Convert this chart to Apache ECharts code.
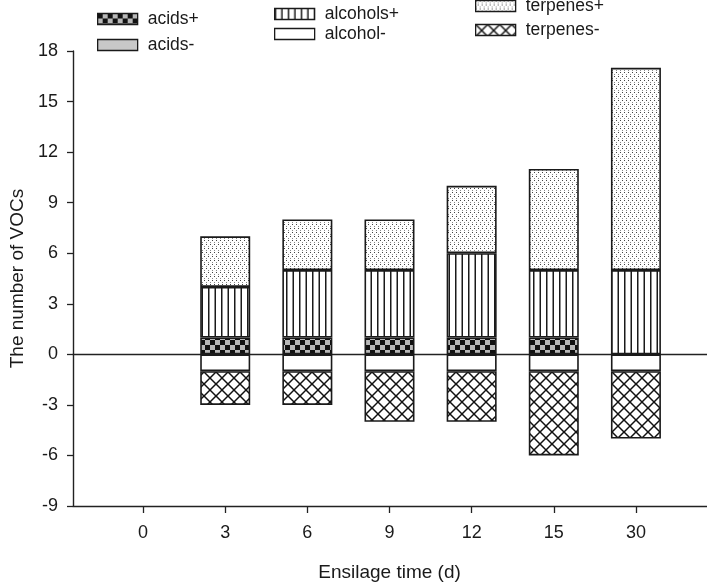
<!DOCTYPE html>
<html>
<head>
<meta charset="utf-8">
<script src="https://cdn.jsdelivr.net/npm/echarts@6/dist/echarts.min.js"></script>
<style>
html,body{margin:0;padding:0;background:#fff;}
#chart{width:707px;height:582px;}
</style>
</head>
<body>
<div id="chart"></div>
<script>
// ---- data ----
var categories = ['0', '3', '6', '9', '12', '15', '30'];
var acidsPos    = [0, 1, 1, 1, 1, 1, 0];
var acidsNeg    = [0, 0, 0, 0, 0, 0, 0];
var alcoholsPos = [0, 3, 4, 4, 5, 4, 5];
var alcoholNeg  = [0, -1, -1, -1, -1, -1, -1];
var terpenesPos = [0, 3, 3, 3, 4, 6, 12];
var terpenesNeg = [0, -2, -2, -3, -3, -5, -4];
var yTicks = [-9, -6, -3, 0, 3, 6, 9, 12, 15, 18];

// ---- patterns ----
function makeCanvas(w, h) {
  var c = document.createElement('canvas');
  c.width = w; c.height = h;
  return c;
}
function patCheck() {
  var c = makeCanvas(10, 10), g = c.getContext('2d');
  g.fillStyle = '#b8b8b8'; g.fillRect(0, 0, 10, 10);
  g.fillStyle = '#111';
  g.fillRect(0, 0, 5, 5); g.fillRect(5, 5, 5, 5);
  return {image: c, repeat: 'repeat'};
}
function patVLines() {
  var c = makeCanvas(13, 4), g = c.getContext('2d');
  g.fillStyle = '#fff'; g.fillRect(0, 0, 13, 4);
  g.fillStyle = '#1a1a1a';
  g.fillRect(0, 0, 1.5, 4); g.fillRect(6.5, 0, 1.5, 4);
  return {image: c, repeat: 'repeat'};
}
function patDots() {
  var c = makeCanvas(8, 8), g = c.getContext('2d');
  g.fillStyle = '#fff'; g.fillRect(0, 0, 8, 8);
  g.fillStyle = '#444';
  g.fillRect(0, 0, 1, 1); g.fillRect(4, 0, 1, 1);
  g.fillRect(2, 4, 1, 1); g.fillRect(6, 4, 1, 1);
  g.fillStyle = '#888';
  g.fillRect(2, 2, 1, 1); g.fillRect(6, 2, 1, 1);
  g.fillRect(0, 6, 1, 1); g.fillRect(4, 6, 1, 1);
  return {image: c, repeat: 'repeat'};
}
function patCross() {
  var s = 12, c = makeCanvas(s, s), g = c.getContext('2d');
  g.fillStyle = '#fff'; g.fillRect(0, 0, s, s);
  g.strokeStyle = '#111'; g.lineWidth = 1.5;
  for (var k = -1; k <= 1; k++) {
    g.beginPath(); g.moveTo(k * s, 0); g.lineTo(k * s + s, s); g.stroke();
    g.beginPath(); g.moveTo(k * s + s, 0); g.lineTo(k * s, s); g.stroke();
  }
  return {image: c, repeat: 'repeat'};
}

var seriesDefs = [
  {name: 'acids+',    values: acidsPos,    color: patCheck()},
  {name: 'acids-',    values: acidsNeg,    color: '#c8c8c8'},
  {name: 'alcohols+', values: alcoholsPos, color: patVLines()},
  {name: 'alcohol-',  values: alcoholNeg,  color: '#ffffff'},
  {name: 'terpenes+', values: terpenesPos, color: patDots()},
  {name: 'terpenes-', values: terpenesNeg, color: patCross()}
];

var FONT = 'Liberation Sans, Arial, Helvetica, sans-serif';
var series = seriesDefs.map(function (d) {
  return {
    name: d.name,
    type: 'bar',
    stack: 'total',
    barWidth: 50,
    xAxisIndex: 0,
    yAxisIndex: 0,
    data: d.values.map(function (v) { return v === 0 ? '-' : v; }),
    itemStyle: {color: d.color, borderColor: '#1a1a1a', borderWidth: 1.6},
    emphasis: {disabled: true}
  };
});

var legendPos = [
  {left: 97, top: 10},
  {left: 97, top: 36},
  {left: 274, top: 5},
  {left: 274, top: 25},
  {left: 475, top: -3},
  {left: 475, top: 21}
];
var legends = seriesDefs.map(function (d, i) {
  return {
    data: [d.name],
    left: legendPos[i].left,
    top: legendPos[i].top,
    padding: 0,
    icon: 'rect',
    itemWidth: 40,
    itemHeight: 11,
    selectedMode: false,
    itemStyle: {borderColor: '#1a1a1a', borderWidth: 1.3},
    textStyle: {fontSize: 17.5, color: '#1a1a1a', fontFamily: FONT, padding: [0, 0, 0, 5]}
  };
});

var hiddenAxisParts = {
  axisLine: {show: false}, axisTick: {show: false},
  axisLabel: {show: false}, splitLine: {show: false}
};

var chart = echarts.init(document.getElementById('chart'), null, {renderer: 'canvas'});
chart.setOption({
  backgroundColor: '#fff',
  animation: false,
  legend: legends,
  grid: [
    {left: 102, right: 30, top: 51, bottom: 76, containLabel: false, outerBoundsMode: 'none'},
    {left: 73, right: 0, top: 51, bottom: 76, containLabel: false, outerBoundsMode: 'none'}
  ],
  xAxis: [
    {
      gridIndex: 0,
      type: 'category',
      data: categories,
      boundaryGap: true,
      name: 'Ensilage time (d)',
      nameLocation: 'middle',
      nameGap: 57,
      nameTextStyle: {fontSize: 19, color: '#1a1a1a', fontFamily: FONT},
      axisLine: {show: false, onZero: false},
      axisTick: {show: true, alignWithLabel: true, length: 7, lineStyle: {color: '#222', width: 1.3}},
      axisLabel: {fontSize: 18, color: '#1a1a1a', fontFamily: FONT, margin: 18},
      splitLine: {show: false}
    },
    Object.assign({
      gridIndex: 1, type: 'value', min: 0, max: 1, position: 'bottom'
    }, hiddenAxisParts, {
      axisLine: {show: true, onZero: false, lineStyle: {color: '#222', width: 1.4}}
    }),
    Object.assign({
      gridIndex: 1, type: 'value', min: 0, max: 1, position: 'top'
    }, hiddenAxisParts, {
      axisLine: {show: true, onZero: true, lineStyle: {color: '#222', width: 1.4}}
    })
  ],
  yAxis: [
    Object.assign({
      gridIndex: 0, type: 'value', min: yTicks[0], max: yTicks[yTicks.length - 1], interval: 3
    }, hiddenAxisParts),
    {
      gridIndex: 1,
      type: 'value',
      min: yTicks[0],
      max: yTicks[yTicks.length - 1],
      interval: 3,
      name: 'The number of VOCs',
      nameLocation: 'middle',
      nameGap: 46,
      nameTextStyle: {fontSize: 19, color: '#1a1a1a', fontFamily: FONT},
      axisLine: {show: true, onZero: false, lineStyle: {color: '#222', width: 1.4}},
      axisTick: {show: true, length: 6, lineStyle: {color: '#222', width: 1.3}},
      axisLabel: {fontSize: 18, color: '#1a1a1a', fontFamily: FONT, margin: 15},
      splitLine: {show: false}
    }
  ],
  series: series
});
</script>
</body>
</html>
